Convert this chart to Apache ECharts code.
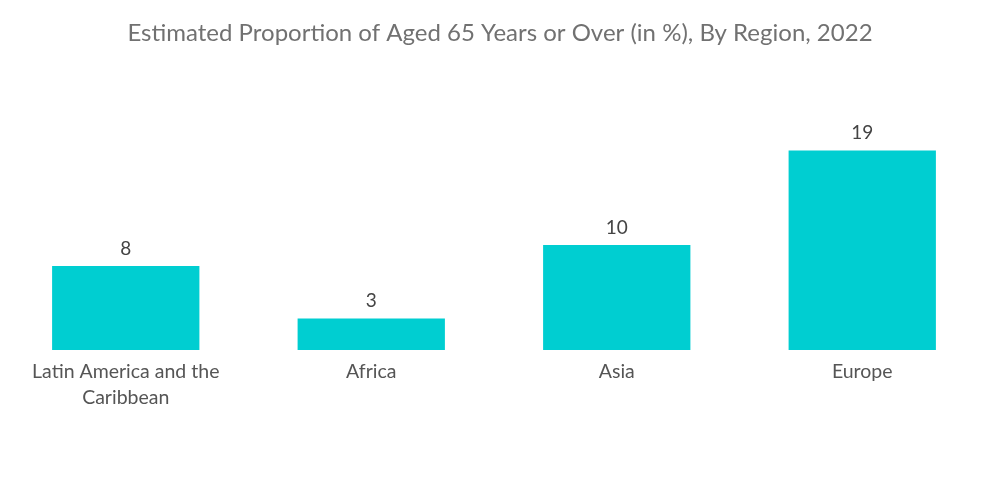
<!DOCTYPE html>
<html>
<head>
<meta charset="utf-8">
<script src="https://cdn.jsdelivr.net/npm/echarts@6/dist/echarts.min.js"></script>
<style>html,body{margin:0;padding:0;background:#fff;}#c{width:1000px;height:504px;}</style>
</head>
<body>
<div id="c"></div>
<script>
const titleText = 'Estimated Proportion of Aged 65 Years or Over (in %), By Region, 2022';
const categories = ['Latin America and the\nCaribbean', 'Africa', 'Asia', 'Europe'];
const values = [8, 3, 10, 19];

const chart = echarts.init(document.getElementById('c'));
chart.setOption({
  backgroundColor: '#ffffff',
  title: {
    text: titleText,
    left: 'center',
    top: 16,
    textStyle: { fontFamily: 'Lato', fontSize: 24, fontWeight: 'normal', color: '#717171' }
  },
  grid: { left: 3, right: 15, top: 140, bottom: 154, containLabel: false },
  xAxis: {
    type: 'category',
    data: categories,
    axisLine: { show: false },
    axisTick: { show: false },
    axisLabel: { fontFamily: 'Lato', fontSize: 19.5, color: '#555555', margin: 9, lineHeight: 26, interval: 0 }
  },
  yAxis: {
    type: 'value',
    min: 0,
    max: 20,
    show: false,
    splitLine: { show: false }
  },
  series: [{
    type: 'bar',
    data: values,
    barWidth: '60%',
    itemStyle: { color: '#00CED1' },
    label: { show: true, position: 'top', distance: 8, fontFamily: 'Lato', fontSize: 19, color: '#444444' }
  }]
});
</script>
</body>
</html>
